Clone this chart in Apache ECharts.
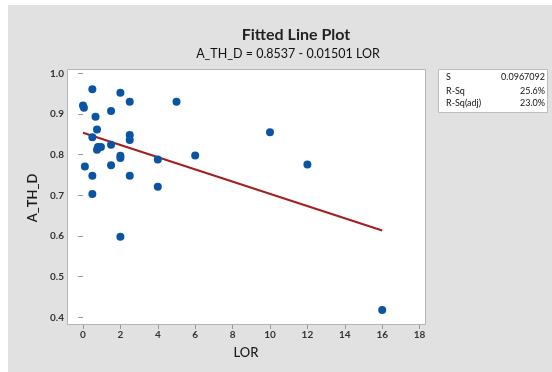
<!DOCTYPE html>
<html>
<head>
<meta charset="utf-8">
<script src="https://cdn.jsdelivr.net/npm/echarts@6/dist/echarts.min.js"></script>
<style>
html,body{margin:0;padding:0;background:#ffffff;}
#chart{width:552px;height:372px;}
</style>
</head>
<body>
<div id="chart"></div>
<script>
// Data
var lor  = [0.5, 2, 0, 0.05, 2.5, 5, 1.5, 0.67, 0.75, 10, 2.5, 2.5, 0.5, 0.75, 0.8, 0.96, 1.5, 2, 2, 4, 6, 0.1, 1.5, 0.5, 2.5, 0.5, 4, 2, 12, 16];
var athd = [0.961, 0.952, 0.921, 0.915, 0.930, 0.930, 0.907, 0.893, 0.862, 0.855, 0.848, 0.836, 0.843, 0.812, 0.819, 0.819, 0.824, 0.797, 0.792, 0.788, 0.798, 0.771, 0.774, 0.748, 0.748, 0.703, 0.721, 0.598, 0.776, 0.418];
var fitX = [0, 16];
var fitY = [0.8537, 0.6135];
var xTicks = [0, 2, 4, 6, 8, 10, 12, 14, 16, 18];
var yTicks = [0.4, 0.5, 0.6, 0.7, 0.8, 0.9, 1.0];
var titleText = 'Fitted Line Plot';
var subtitleText = 'A_TH_D = 0.8537 - 0.01501 LOR';
var xName = 'LOR';
var yName = 'A_TH_D';
var statLabels = ['S', 'R-Sq', 'R-Sq(adj)'];
var statValues = ['0.0967092', '25.6%', '23.0%'];

var FONT = 'Lato, "Open Sans", sans-serif';
var chart = echarts.init(document.getElementById('chart'));

var points = lor.map(function (x, i) { return [x, athd[i]]; });
var fitPts = fitX.map(function (x, i) { return [x, fitY[i]]; });

var graphics = [
  { type: 'rect', z: -10, silent: true, shape: { x: 8, y: 5, width: 544, height: 367 }, style: { fill: '#e1e1e1' } },
  { type: 'rect', z: -9, silent: true, shape: { x: 67.5, y: 69.5, width: 358, height: 255 }, style: { fill: '#ffffff', stroke: '#b4b4b4', lineWidth: 1 } },
  { type: 'rect', z: -9, silent: true, shape: { x: 438.5, y: 69.5, width: 109, height: 43 }, style: { fill: '#ffffff', stroke: '#bdbdbd', lineWidth: 1 } },
  { type: 'text', z: 10, x: 246, y: 353, style: { text: xName, fill: '#1a1a1a', font: '500 13px ' + FONT, textAlign: 'center', textVerticalAlign: 'middle' } },
  { type: 'text', z: 10, x: 33, y: 198, rotation: Math.PI / 2, style: { text: yName, fill: '#1a1a1a', font: '600 13px ' + FONT, textAlign: 'center', textVerticalAlign: 'middle' } }
];
var rowY = [79, 92.5, 105];
statLabels.forEach(function (s, i) {
  graphics.push({ type: 'text', z: 10, left: 446, top: rowY[i] - 6, style: { text: s, fill: '#111', font: '9px ' + FONT } });
  graphics.push({ type: 'text', z: 10, right: 552 - 545, top: rowY[i] - 6, style: { text: statValues[i], fill: '#111', font: '9px ' + FONT, textAlign: 'right' } });
});

chart.setOption({
  animation: false,
  backgroundColor: '#ffffff',
  textStyle: { fontFamily: FONT },
  title: [
    { text: titleText, left: 291, top: 22, textAlign: 'center', textStyle: { fontSize: 16, fontWeight: 'bold', color: '#222', fontFamily: FONT } },
    { text: subtitleText, left: 283, top: 42, textAlign: 'center', textStyle: { fontSize: 12.5, fontWeight: 'normal', color: '#111', fontFamily: FONT } }
  ],
  graphic: graphics,
  grid: { left: 83, right: 132.4, top: 73.3, bottom: 54.7, containLabel: false },
  xAxis: {
    type: 'value', min: 0, max: 18, interval: 2, offset: 7.7,
    axisLine: { show: false },
    axisTick: { show: true, length: 4, lineStyle: { color: '#999' } },
    axisLabel: { fontSize: 10, color: '#333', fontWeight: 'bold', margin: 5, formatter: function (v) { return xTicks.indexOf(v) >= 0 ? String(v) : ''; } },
    splitLine: { show: false }
  },
  yAxis: {
    type: 'value', min: 0.4, max: 1.0, interval: 0.1, offset: 16,
    axisLine: { show: false },
    axisTick: { show: true, length: 5, lineStyle: { color: '#999' } },
    axisLabel: { fontSize: 10, color: '#333', fontWeight: 'bold', margin: 3, formatter: function (v) { return v.toFixed(1); } },
    splitLine: { show: false }
  },
  series: [
    { type: 'line', data: fitPts, showSymbol: false, symbol: 'none', clip: false, z: 3,
      lineStyle: { color: '#a31f1f', width: 2 } },
    { type: 'scatter', data: points, symbol: 'circle', symbolSize: 8, clip: false, z: 4,
      itemStyle: { color: '#0a55a3', opacity: 1 } }
  ]
});
</script>
</body>
</html>
